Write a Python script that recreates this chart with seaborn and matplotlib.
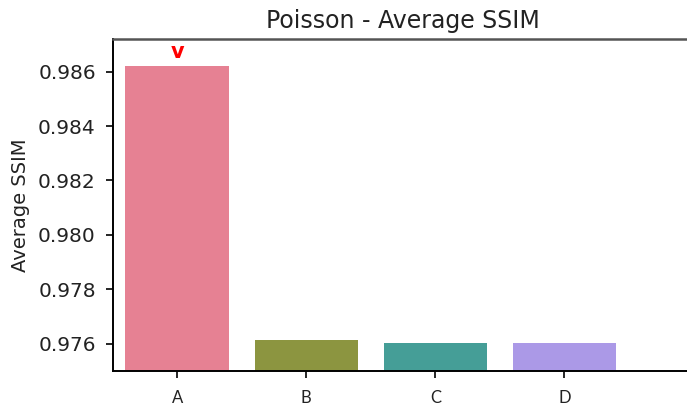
import matplotlib
matplotlib.use("Agg")
import matplotlib.pyplot as plt
import seaborn as sns
import pandas as pd

# Average SSIM per method under Poisson noise
methods = ["A", "B", "C", "D"]
avg_ssim = [0.98622, 0.97612, 0.97603, 0.97603]

df = pd.DataFrame({"Method": methods, "Average SSIM": avg_ssim})

fig = plt.figure(figsize=(6.87, 4.08), dpi=100)
ax = fig.add_axes([0.1638, 0.0914, 0.8457, 0.8130])

sns.barplot(data=df, x="Method", y="Average SSIM", hue="Method",
            palette="husl", legend=False, ax=ax)

best = max(avg_ssim)
ax.set_ylim(0.975, best * 1.001)
ax.set_xlim(-0.5, 4.0)

# mark the best method
best_idx = avg_ssim.index(best)
ax.text(best_idx, best + 0.0005, "v", color="red", fontweight="bold",
        fontsize=15, ha="center", va="center")

ax.set_title("Poisson - Average SSIM", fontsize=17, pad=8, color="#222222")
ax.set_xlabel("")
ax.set_ylabel("Average SSIM", fontsize=14, labelpad=6, color="#222222")
ax.tick_params(axis="y", labelsize=14.5, length=5, width=1.2, pad=7,
               labelcolor="#222222")
ax.tick_params(axis="x", length=5, width=1.2, pad=9)
for lab in ax.get_xticklabels():
    lab.set_fontfamily("Lato")
    lab.set_fontsize(12)
    lab.set_color("#222222")

for s in ax.spines.values():
    s.set_linewidth(1.4)
ax.spines["top"].set_color("#555555")
ax.spines["top"].set_linewidth(1.8)

fig.savefig("out.png", dpi=100)
